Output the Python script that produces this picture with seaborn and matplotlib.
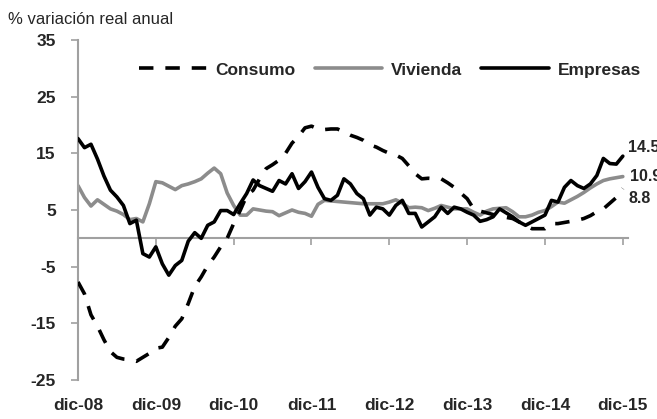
import numpy as np
import pandas as pd
import matplotlib
matplotlib.use("Agg")
import matplotlib.pyplot as plt
import seaborn as sns

# monthly data, dic-08 .. dic-15 (85 months), % real annual change
consumo = [-7.7, -9.8, -13.5, -15.5, -17.9, -20.0, -21.0, -21.3, -21.4, -21.7,
           -21.0, -20.3, -19.4, -19.2, -17.5, -15.5, -14.2, -11.5, -8.5, -6.8,
           -4.8, -3.3, -1.5, 0.0, 2.6, 4.9, 7.5, 8.5, 10.5, 12.3,
           13.0, 13.8, 15.0, 16.8, 18.0, 19.5, 19.8, 19.3, 19.2, 19.3,
           19.3, 18.8, 18.2, 17.8, 17.3, 16.5, 16.1, 15.5, 15.0, 14.7,
           14.1, 12.8, 11.4, 10.5, 10.6, 10.5, 10.5, 9.8, 9.0, 8.0,
           7.0, 5.2, 4.8, 4.5, 4.2, 3.9, 3.7, 3.5, 2.9, 2.3,
           1.7, 1.7, 1.7, 2.6, 2.6, 2.8, 3.0, 3.2, 3.5, 4.0,
           4.7, 5.2, 6.2, 7.2, 8.8]
vivienda = [9.3, 7.2, 5.7, 6.8, 6.0, 5.2, 4.8, 4.2, 3.3, 3.5,
            2.9, 6.1, 10.0, 9.8, 9.2, 8.6, 9.3, 9.6, 10.0, 10.5,
            11.5, 12.4, 11.4, 8.0, 5.8, 4.1, 4.1, 5.2, 5.0, 4.8,
            4.7, 4.0, 4.5, 5.0, 4.6, 4.4, 3.9, 6.0, 6.7, 6.6,
            6.5, 6.4, 6.3, 6.2, 6.1, 6.1, 6.1, 6.1, 6.4, 6.8,
            6.2, 5.4, 5.5, 5.4, 4.9, 5.3, 5.8, 5.5, 5.2, 5.2,
            5.2, 4.6, 4.1, 4.8, 5.2, 5.3, 5.4, 4.7, 3.8, 3.8,
            4.1, 4.6, 4.9, 5.6, 6.4, 6.2, 6.8, 7.4, 8.1, 8.9,
            9.6, 10.2, 10.5, 10.7, 10.9]
empresas = [17.6, 16.0, 16.6, 14.0, 11.0, 8.5, 7.3, 5.8, 2.6, 3.2,
            -2.7, -3.3, -1.5, -4.5, -6.5, -4.8, -3.9, -0.5, 1.0, 0.0,
            2.3, 2.9, 4.9, 4.9, 4.2, 6.1, 7.9, 10.3, 9.3, 8.8,
            8.3, 10.2, 9.6, 11.4, 8.8, 10.0, 11.7, 9.0, 7.0, 6.7,
            7.6, 10.5, 9.6, 7.9, 7.0, 4.1, 5.5, 5.2, 4.1, 5.8,
            6.7, 4.4, 4.4, 2.0, 2.9, 3.8, 5.5, 4.4, 5.5, 5.2,
            4.6, 4.1, 3.0, 3.3, 3.8, 5.2, 4.5, 3.8, 2.9, 2.3,
            2.9, 3.5, 4.1, 6.7, 6.4, 9.0, 10.2, 9.3, 8.8, 9.6,
            11.1, 14.1, 13.2, 13.1, 14.5]
tick_labels = ["dic-08", "dic-09", "dic-10", "dic-11", "dic-12", "dic-13", "dic-14", "dic-15"]
y_ticks = [-25, -15, -5, 5, 15, 25, 35]

months = np.arange(len(consumo))

sns.set_theme(style="white")
plt.rcParams["font.family"] = ["Liberation Sans", "DejaVu Sans"]

grey_axis = "#a0a0a0"
grey_line = "#8c8c8c"

fig = plt.figure(figsize=(6.57, 4.19), dpi=100)
ax = fig.add_axes([78 / 657, 1 - 380 / 419, (628 - 78) / 657, 340 / 419])

sns.lineplot(x=months, y=consumo, ax=ax, color="black", lw=2.6, label="Consumo", zorder=3)
ax.lines[-1].set_dashes([4, 3.3])
sns.lineplot(x=months, y=vivienda, ax=ax, color=grey_line, lw=2.6, label="Vivienda", zorder=2)
sns.lineplot(x=months, y=empresas, ax=ax, color="black", lw=2.6, label="Empresas", zorder=4)

ax.set_xlim(0, 84.8)
ax.set_ylim(-25, 35)
ax.set_yticks(y_ticks)
ax.set_yticklabels([str(v) for v in y_ticks], fontsize=12.5, fontweight="bold")
ax.tick_params(axis="y", direction="out", length=5, width=1.2, color=grey_axis,
               pad=11, left=True)

for s in ["top", "right"]:
    ax.spines[s].set_visible(False)
ax.spines["left"].set_color(grey_axis)
ax.spines["left"].set_linewidth(1.5)
ax.spines["bottom"].set_position(("data", 0))
ax.spines["bottom"].set_color(grey_axis)
ax.spines["bottom"].set_linewidth(1.5)

ax.set_xticks(np.arange(0, 85, 12))
ax.set_xticklabels([])
ax.tick_params(axis="x", direction="out", length=5, width=1.2, color=grey_axis, bottom=True)

sec = ax.secondary_xaxis("bottom")
sec.set_xticks(np.arange(0, 85, 12))
sec.set_xticklabels(tick_labels, fontsize=12.5, fontweight="bold")
sec.tick_params(length=0, pad=13)
sec.spines["bottom"].set_visible(False)

ax.set_xlabel("")
ax.set_ylabel("")

# end-of-series labels (cut by the right edge, as in the source)
ax.annotate(f"{empresas[-1]:.1f}", (months[-1], empresas[-1]), xytext=(4, 6),
            textcoords="offset points", fontsize=11.5, fontweight="bold", va="center")
ax.annotate(f"{vivienda[-1]:.1f}", (months[-1], vivienda[-1]), xytext=(5, 0),
            textcoords="offset points", fontsize=11.5, fontweight="bold", va="center")
ax.annotate(f"{consumo[-1]:.1f}", (months[-1], consumo[-1]), xytext=(4, -7),
            textcoords="offset points", fontsize=11.5, fontweight="bold", va="center")

leg = ax.legend(loc="center", bbox_to_anchor=(390 / 657, 1 - 70 / 419),
                bbox_transform=fig.transFigure, ncol=3, frameon=False,
                prop={"weight": "bold", "size": 12.5}, handlelength=3.9,
                handletextpad=0.5, columnspacing=1.1)

fig.text(8 / 657, 1 - 20 / 419, "% variación real anual", fontsize=12, va="center", ha="left")

fig.savefig("out.png", dpi=100)
